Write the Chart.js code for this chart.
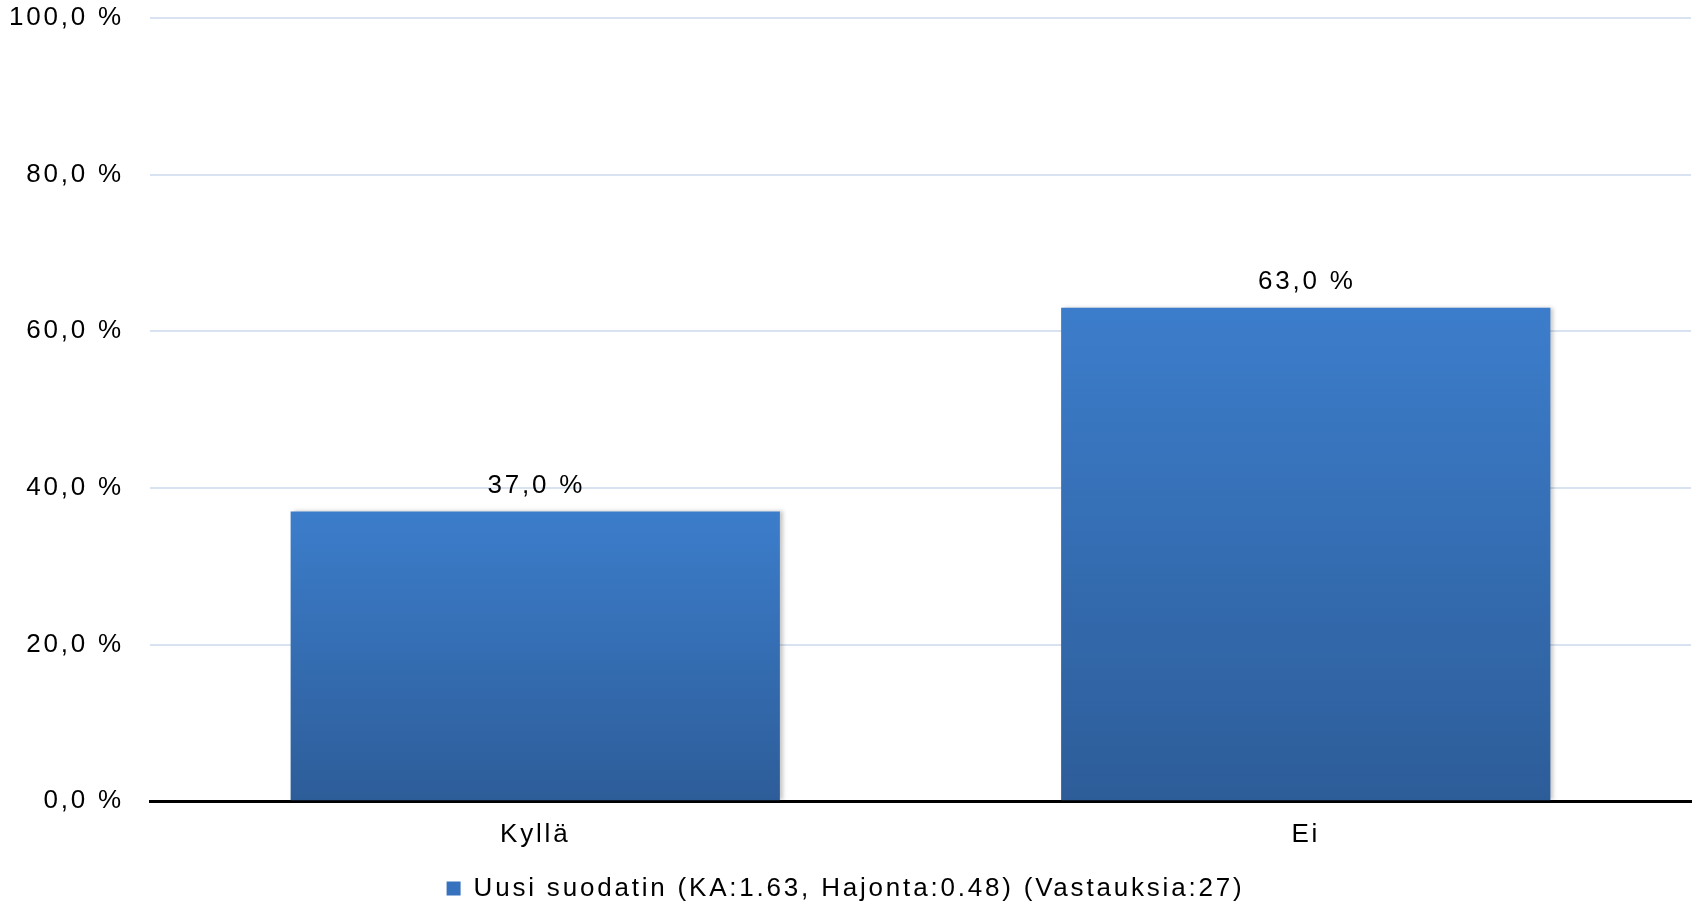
<!DOCTYPE html>
<html>
<head>
<meta charset="utf-8">
<script src="https://cdn.jsdelivr.net/npm/chart.js@4.4.1/dist/chart.umd.min.js"></script>
<style>
  html, body { margin: 0; padding: 0; background: #fff; }
  #wrap { width: 1700px; height: 905px; position: relative; }
</style>
</head>
<body>
<div id="wrap"><canvas id="myChart"></canvas></div>
<script>
const categories = ['Kyllä', 'Ei'];
const seriesValues = [37.0, 63.0];
const seriesName = 'Uusi suodatin (KA:1.63, Hajonta:0.48) (Vastauksia:27)';
const tickValues = [0, 20, 40, 60, 80, 100];

const fontFamily = '"Liberation Sans", Arial, sans-serif';
const spacing = '2.8px';

function pct(v) {
    return v.toFixed(1).replace('.', ',') + ' %';
}

// per-bar vertical gradient, lighter at the top
function barFill(context) {
    const chart = context.chart;
    const y = chart.scales.y;
    if (!chart.chartArea || !y || context.raw === undefined) return '#3570B8';
    const top = y.getPixelForValue(context.raw);
    const bottom = y.getPixelForValue(0);
    const g = chart.ctx.createLinearGradient(0, top, 0, bottom);
    g.addColorStop(0, '#3C7DCB');
    g.addColorStop(1, '#2D5D99');
    return g;
}

const spacingPlugin = {
    id: 'spacing',
    beforeUpdate(chart) { chart.ctx.letterSpacing = spacing; },
    beforeLayout(chart) { chart.ctx.letterSpacing = spacing; },
    beforeDraw(chart) { chart.ctx.letterSpacing = spacing; }
};

const shadowPlugin = {
    id: 'barShadow',
    beforeDatasetsDraw(chart) {
        const ctx = chart.ctx;
        ctx.save();
        ctx.shadowColor = 'rgba(0,0,0,0.22)';
        ctx.shadowOffsetX = 3;
        ctx.shadowOffsetY = 0;
        ctx.shadowBlur = 4;
    },
    afterDatasetsDraw(chart) {
        chart.ctx.restore();
    }
};

const valueLabels = {
    id: 'valueLabels',
    afterDraw(chart) {
        const ctx = chart.ctx;
        ctx.save();
        ctx.letterSpacing = spacing;
        ctx.font = '26px ' + fontFamily;
        ctx.fillStyle = '#000';
        ctx.textAlign = 'center';
        ctx.textBaseline = 'middle';
        chart.getDatasetMeta(0).data.forEach((bar, i) => {
            ctx.fillText(pct(seriesValues[i]), bar.x + 1, bar.y - 26);
        });
        ctx.restore();
    }
};

var config = {
    type: 'bar',
    data: {
        labels: categories,
        datasets: [{
            label: seriesName,
            data: seriesValues,
            backgroundColor: barFill,
            borderWidth: 0,
            categoryPercentage: 1.0,
            barPercentage: 0.635
        }]
    },
    options: {
        animation: false,
        responsive: true,
        maintainAspectRatio: false,
        layout: {
            padding: { top: 18, right: 9, bottom: -6.5, left: 0 }
        },
        plugins: {
            tooltip: { enabled: false },
            legend: {
                position: 'bottom',
                labels: {
                    boxWidth: 14,
                    boxHeight: 14,
                    padding: 0,
                    color: '#000',
                    font: { family: fontFamily, size: 26 },
                    generateLabels() {
                        return [{
                            text: seriesName,
                            fillStyle: '#3672BD',
                            strokeStyle: '#3672BD',
                            lineWidth: 0,
                            datasetIndex: 0
                        }];
                    }
                }
            }
        },
        scales: {
            x: {
                afterFit(scale) { scale.height += 7; },
                grid: { display: false, drawTicks: false },
                border: { display: true, color: '#000', width: 3 },
                ticks: {
                    color: '#000',
                    padding: 18,
                    font: { family: fontFamily, size: 26 }
                }
            },
            y: {
                min: 0,
                max: 100,
                afterFit(scale) {
                    scale.width = 150;
                    scale.paddingTop = 0;
                    scale.paddingBottom = 0;
                },
                afterBuildTicks(scale) {
                    scale.ticks = tickValues.map(v => ({ value: v }));
                },
                grid: { color: '#D9E2F0', lineWidth: 2, drawTicks: false },
                border: { display: false },
                ticks: {
                    color: '#000',
                    padding: 26,
                    font: { family: fontFamily, size: 26 },
                    callback: v => pct(v)
                }
            }
        }
    },
    plugins: [spacingPlugin, shadowPlugin, valueLabels]
};

var ctx = document.getElementById('myChart').getContext('2d');
window.myBar = new Chart(ctx, config);
</script>
</body>
</html>
